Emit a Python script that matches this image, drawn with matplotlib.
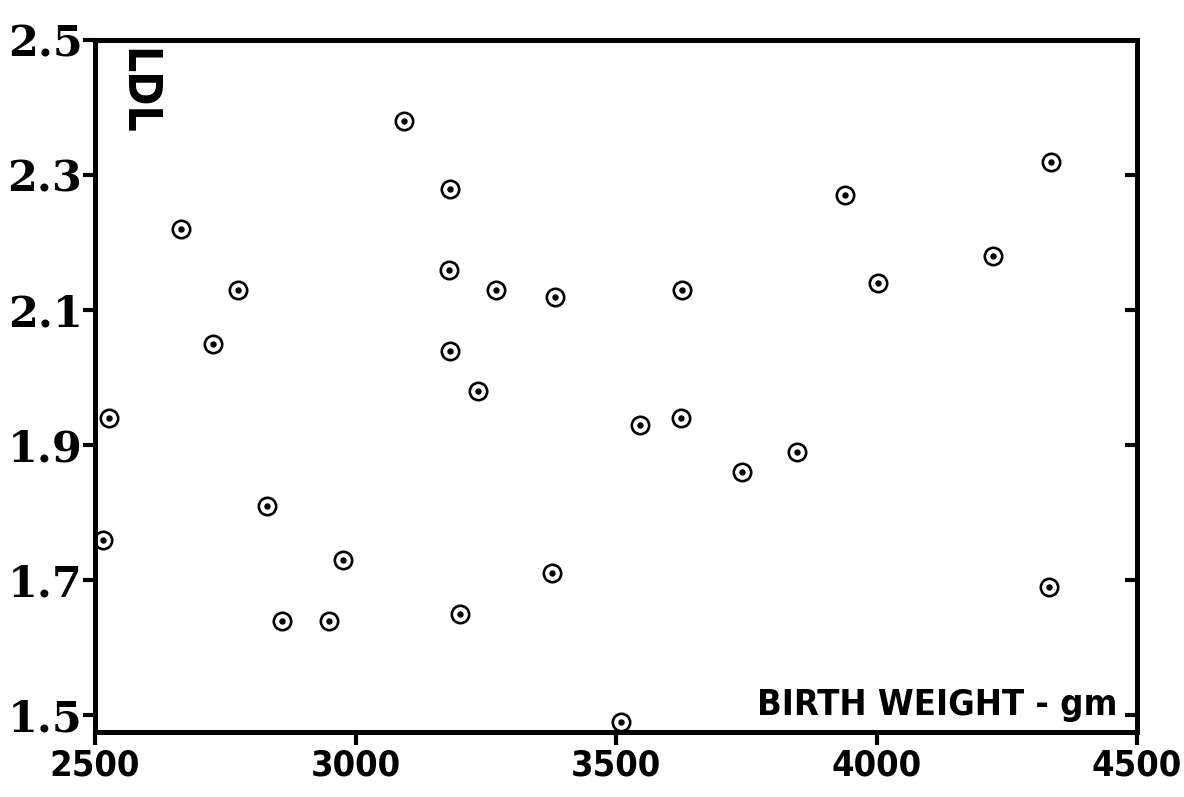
import matplotlib
matplotlib.use("Agg")
import matplotlib.pyplot as plt

# birth weight (gm) vs LDL
birth_weight = [2515, 2526, 2665, 2774, 2726, 2830, 2976, 2858, 2949, 3094,
                3181, 3180, 3181, 3235, 3269, 3382, 3201, 3377, 3510, 3547,
                3625, 3627, 3742, 3848, 3939, 4003, 4223, 4335, 4331]
ldl = [1.76, 1.94, 2.22, 2.13, 2.05, 1.81, 1.73, 1.64, 1.64, 2.38,
       2.28, 2.16, 2.04, 1.98, 2.13, 2.12, 1.65, 1.71, 1.49, 1.93,
       1.94, 2.13, 1.86, 1.89, 2.27, 2.14, 2.18, 2.32, 1.69]

x_ticks = [2500, 3000, 3500, 4000, 4500]
y_ticks = [1.5, 1.7, 1.9, 2.1, 2.3, 2.5]
y_ticks_right = [1.5, 1.7, 1.9, 2.1, 2.3]

NARROW = ["Liberation Sans Narrow", "DejaVu Sans"]

fig = plt.figure(figsize=(11.84, 7.97), dpi=100)
ax = fig.add_axes([95 / 1184, 1 - 732 / 797, (1137 - 95) / 1184, 692 / 797])

ax.plot(birth_weight, ldl, ls="none", marker="o", ms=12.5, mew=1.9,
        mfc="none", mec="black", clip_on=False, zorder=3)
ax.plot(birth_weight, ldl, ls="none", marker="o", ms=4.6, mew=0,
        mfc="black", clip_on=False, zorder=4)

ax.set_xlim(2500, 4500)
ax.set_ylim(1.475, 2.5)
for s in ax.spines.values():
    s.set_linewidth(3.6)

ax.set_xticks(x_ticks)
ax.set_xticklabels([str(v) for v in x_ticks], family=NARROW,
                   fontweight="bold", fontsize=26, fontstretch="condensed")
ax.set_yticks(y_ticks)
ax.set_yticklabels([f"{v:.1f}" for v in y_ticks], family="DejaVu Serif",
                   fontweight="bold", fontsize=31)
ax.tick_params(axis="x", direction="out", length=9, width=3, pad=3)
ax.tick_params(axis="y", direction="out", length=9, width=3, pad=0)

# inward ticks on the right edge
sec = ax.secondary_yaxis("right")
sec.set_yticks(y_ticks_right)
sec.tick_params(direction="in", length=9, width=3, labelright=False)
sec.spines["right"].set_visible(False)

ax.text(0.981, 0.025, "BIRTH WEIGHT - gm", transform=ax.transAxes,
        ha="right", va="baseline", family=NARROW, fontweight="bold",
        fontsize=26, fontstretch="condensed")
ax.text(0.040, 0.926, "LDL", transform=ax.transAxes, rotation=-90,
        ha="center", va="center", family=NARROW, fontweight="bold",
        fontsize=33, fontstretch="condensed")

fig.savefig("out.png", dpi=100)
